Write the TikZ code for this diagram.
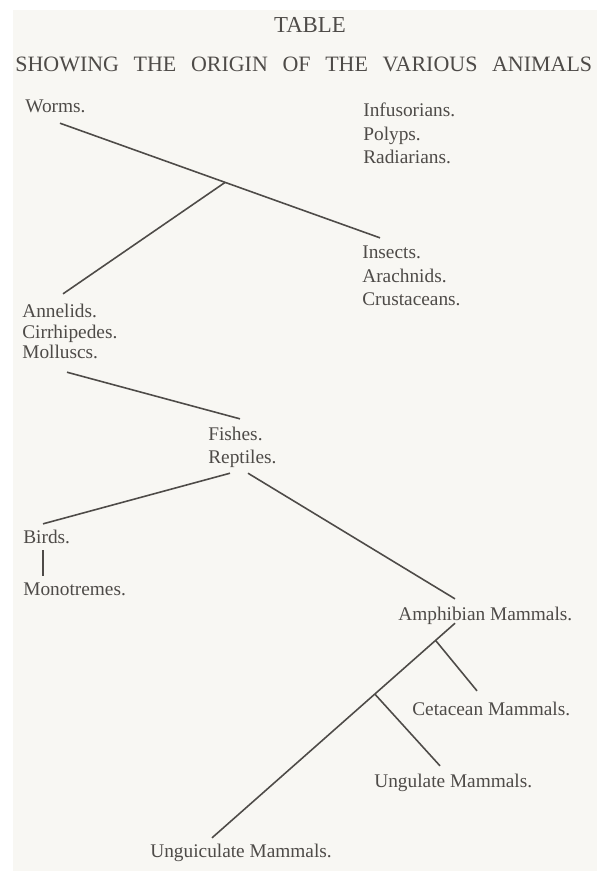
\documentclass[tikz,border=0pt]{standalone}
\usepackage{fontspec}
\setmainfont{Liberation Serif}
\usepackage{tikz}
\definecolor{ink}{RGB}{78,75,72}
\definecolor{paper}{RGB}{248,247,243}

\begin{document}
\begin{tikzpicture}[x=0.02cm, y=-0.02cm,
    lbl/.style={anchor=base west, inner sep=0pt, text height=0.7em, text depth=0.22em,
      text=ink, font=\fontsize{11}{13}\selectfont},
    head/.style={anchor=base, inner sep=0pt, text=ink, font=\fontsize{12.5}{15}\selectfont},
    branch/.style={draw=ink, line width=0.9pt}]
  \useasboundingbox (0,0) rectangle (597,871);
  \fill[white] (0,0) rectangle (597,871);
  \fill[paper] (13,10) rectangle (597,871);

  \node[head, font=\fontsize{13}{15}\selectfont] (table) at (310,33) {TABLE};
  \node[head, anchor=base west] (showing) at (15,72)
    {\makebox[11.54cm][s]{SHOWING THE ORIGIN OF THE VARIOUS ANIMALS}};

  \node[lbl] (worms) at (25,113) {Worms.};
  \node[lbl] (infus) at (363,117) {Infusorians.};
  \node[lbl] (polyps) at (363,141) {Polyps.};
  \node[lbl] (radiar) at (363,164) {Radiarians.};
  \node[lbl] (insects) at (362,258) {Insects.};
  \node[lbl] (arachn) at (362,282) {Arachnids.};
  \node[lbl] (crust) at (362,305) {Crustaceans.};
  \node[lbl] (annel) at (22,317) {Annelids.};
  \node[lbl] (cirrh) at (22,338) {Cirrhipedes.};
  \node[lbl] (mollus) at (22,358) {Molluscs.};
  \node[lbl] (fishes) at (208,440) {Fishes.};
  \node[lbl] (reptil) at (208,463) {Reptiles.};
  \node[lbl] (birds) at (23,543) {Birds.};
  \node[lbl] (monotr) at (23,595) {Monotremes.};
  \node[lbl] (amphib) at (398,620) {Amphibian Mammals.};
  \node[lbl] (cetac) at (412,715) {Cetacean Mammals.};
  \node[lbl] (ungul) at (374,787) {Ungulate Mammals.};
  \node[lbl] (unguic) at (150,857) {Unguiculate Mammals.};

  \draw[branch] ([shift={(35,6)}]worms.south west) -- coordinate[pos=0.516] (fork1)
    ([shift={(18,-7.5)}]insects.north west);
  \draw[branch] (fork1) -- ([shift={(41,-10.5)}]annel.north west);
  \draw[branch] ([shift={(45,10)}]mollus.south west) -- ([shift={(32,-8.5)}]fishes.north west);
  \draw[branch] ([shift={(22,6)}]reptil.south west) -- ([shift={(20,-6.5)}]birds.north west);
  \draw[branch] ([shift={(40,6)}]reptil.south west) -- ([shift={(57,-8.5)}]amphib.north west);
  \draw[branch] ([shift={(20,3)}]birds.south west) -- ([shift={(20,-6.5)}]monotr.north west);
  \draw[branch] ([shift={(57,-1)}]amphib.south west) -- coordinate[pos=0.08] (fork2)
    coordinate[pos=0.33] (fork3) ([shift={(62,-6.5)}]unguic.north west);
  \draw[branch] (fork2) -- ([shift={(65,-11.5)}]cetac.north west);
  \draw[branch] (fork3) -- ([shift={(66,-8.5)}]ungul.north west);
\end{tikzpicture}
\end{document}
